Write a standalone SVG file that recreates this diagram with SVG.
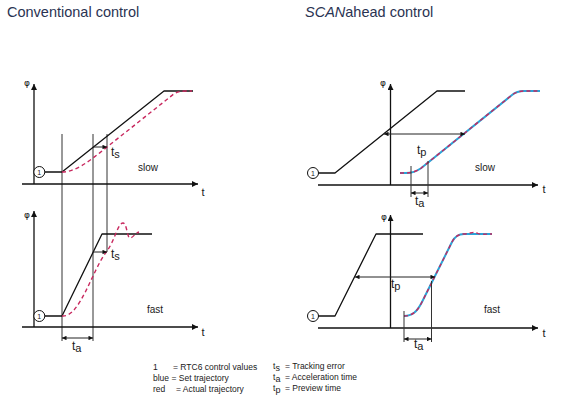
<svg xmlns="http://www.w3.org/2000/svg" width="565" height="407" viewBox="0 0 565 407">
<defs>
<style>
text{font-family:"Liberation Sans",Arial,sans-serif;fill:#1a1a1a}
.title{font-size:14.5px;fill:#2a3352}
.ax{stroke:#111;stroke-width:1.3;fill:none}
.set{stroke:#111;stroke-width:1.3;fill:none;stroke-linejoin:round}
.vl{stroke:#333;stroke-width:1;fill:none}
.dim{stroke:#222;stroke-width:1;fill:none}
.act{stroke:#c8285e;stroke-width:1.4;fill:none;stroke-dasharray:4 3}
.blu{stroke:#2aa4d8;stroke-width:2;fill:none}
.phi{font-family:"DejaVu Sans","Noto Sans",sans-serif;font-size:9px;fill:#111}
.tl{font-size:11px}
.lbl{font-size:10px}
.sym{font-size:12px}
.leg{font-size:8.5px}
.c1{fill:#fff;stroke:#111;stroke-width:1}
.c1t{font-size:7px;text-anchor:middle}
</style>
<marker id="axa" viewBox="0 0 10 10" refX="10" refY="5" markerWidth="8" markerHeight="6" markerUnits="userSpaceOnUse" orient="auto"><path d="M0,0 L10,5 L0,10 z" fill="#111"/></marker>
<marker id="ah" viewBox="0 0 10 10" refX="10" refY="5" markerWidth="6" markerHeight="4.5" markerUnits="userSpaceOnUse" orient="auto-start-reverse"><path d="M0,0 L10,5 L0,10 z" fill="#111"/></marker>
</defs>
<rect width="565" height="407" fill="#fff"/>

<text class="title" x="7" y="16.5">Conventional control</text>
<text class="title" x="305" y="16.5"><tspan font-style="italic">SCAN</tspan>ahead control</text>

<g id="connectors">
<path class="vl" d="M62,134 V341 M93,134 V341 M107,134 V252"/>
<path class="ax" d="M34,184 V84" marker-end="url(#axa)"/>
<path class="ax" d="M22,184 H198" marker-end="url(#axa)"/>
<path class="set" d="M45,172 H62 L164,91 H193"/>
<path class="act" d="M62,172 C75,172 88,162 100,152.6 L172,95.4 Q177,91 186,91 L192,91"/>
<path class="dim" d="M93,147 H107" marker-end="url(#ah)"/>
<path class="ax" d="M34,327 V211" marker-end="url(#axa)"/>
<path class="ax" d="M22,327 H198" marker-end="url(#axa)"/>
<path class="set" d="M45,316 H62 L102,234 H152"/>
<path class="act" d="M62,316 C80,318 92,270 107,251 C114,242 118,223 123,223 C127,223 127,238 130,238 C133,238 135,233 139,232"/>
<path class="dim" d="M93,252 H107" marker-end="url(#ah)"/>
<path class="dim" d="M62,338 H93" marker-start="url(#ah)" marker-end="url(#ah)"/>
<path class="ax" d="M390.5,185 V84" marker-end="url(#axa)"/>
<path class="ax" d="M318,185 H538" marker-end="url(#axa)"/>
<path class="set" d="M318,173 H335 L437,91 H465"/>
<path class="blu" d="M400,173 L406,173 C412,173 417,171 421,168.2 L512,95 Q517,91 524,91 L540,91"/>
<path class="act" d="M400,173 L406,173 C412,173 417,171 421,168.2 L512,95 Q517,91 524,91 L540,91"/>
<path class="dim" d="M384,134 H465" marker-start="url(#ah)" marker-end="url(#ah)"/>
<path class="vl" d="M411,166 V197 M428,161 V197"/>
<path class="dim" d="M411,193 H428" marker-start="url(#ah)" marker-end="url(#ah)"/>
<path class="ax" d="M390.5,328 V215" marker-end="url(#axa)"/>
<path class="ax" d="M318,328 H538" marker-end="url(#axa)"/>
<path class="set" d="M318,316 H335 L376,234 H423"/>
<path class="blu" d="M404,316 C412,316 417,312 422,302 L452,242 Q456,234 464,234 L492,234"/>
<path class="act" d="M404,316 C412,316 417,312 422,302 L452,242 Q456,234 464,234 C470,234 473,231 477,233 C480,235 484,234 492,234"/>
<path class="dim" d="M355,277 H435" marker-start="url(#ah)" marker-end="url(#ah)"/>
<path class="vl" d="M404,311 V342 M431.5,281 V342"/>
<path class="dim" d="M404,339 H431.5" marker-start="url(#ah)" marker-end="url(#ah)"/>
</g>

<g id="panel-conv-slow">
<text class="phi" x="27" y="86" text-anchor="middle">φ</text>
<text class="tl" x="203" y="196" text-anchor="middle">t</text>
<g id="c1-lt"><circle class="c1" cx="39.3" cy="172" r="5.5"/><text class="c1t" x="39.3" y="174.5">1</text></g>
<text class="sym" x="111" y="156">t<tspan font-size="11" dy="2">s</tspan></text>
<text class="lbl" x="138" y="170.5">slow</text>
</g>

<g id="panel-conv-fast">
<text class="phi" x="27" y="218" text-anchor="middle">φ</text>
<text class="tl" x="203" y="336" text-anchor="middle">t</text>
<g id="c1-lb"><circle class="c1" cx="39.3" cy="316" r="5.5"/><text class="c1t" x="39.3" y="318.5">1</text></g>
<text class="sym" x="111" y="258">t<tspan font-size="11" dy="2">s</tspan></text>
<text class="lbl" x="147" y="312.5">fast</text>
<text class="sym" x="72" y="350">t<tspan font-size="11" dy="2">a</tspan></text>
</g>

<g id="panel-scan-slow">
<text class="phi" x="383" y="86" text-anchor="middle">φ</text>
<text class="tl" x="544" y="193" text-anchor="middle">t</text>
<g id="c1-rt"><circle class="c1" cx="313" cy="173" r="5.5"/><text class="c1t" x="313" y="175.5">1</text></g>
<text class="sym" x="417" y="154">t<tspan font-size="11" dy="2">p</tspan></text>
<text class="lbl" x="475" y="170.5">slow</text>
<text class="sym" x="415" y="205">t<tspan font-size="11" dy="2">a</tspan></text>
</g>

<g id="panel-scan-fast">
<text class="phi" x="384" y="220" text-anchor="middle">φ</text>
<text class="tl" x="544" y="337" text-anchor="middle">t</text>
<g id="c1-rb"><circle class="c1" cx="313" cy="316" r="5.5"/><text class="c1t" x="313" y="318.5">1</text></g>
<text class="sym" x="391" y="288">t<tspan font-size="11" dy="2">p</tspan></text>
<text class="lbl" x="484" y="313">fast</text>
<text class="sym" x="414" y="348">t<tspan font-size="11" dy="2">a</tspan></text>
</g>

<g id="legend">
<text class="leg" x="153" y="370">1</text>
<text class="leg" x="173" y="370">= RTC6 control values</text>
<text class="leg" x="153" y="381">blue = Set trajectory</text>
<text class="leg" x="153" y="392">red</text>
<text class="leg" x="176" y="392">= Actual trajectory</text>
<text class="leg" x="273" y="369" font-size="10">t<tspan font-size="9" dy="2">s</tspan></text>
<text class="leg" x="285" y="369">= Tracking error</text>
<text class="leg" x="273" y="380" font-size="10">t<tspan font-size="9" dy="2">a</tspan></text>
<text class="leg" x="285" y="380">= Acceleration time</text>
<text class="leg" x="273" y="391" font-size="10">t<tspan font-size="9" dy="2">p</tspan></text>
<text class="leg" x="285" y="391">= Preview time</text>
</g>
</svg>
